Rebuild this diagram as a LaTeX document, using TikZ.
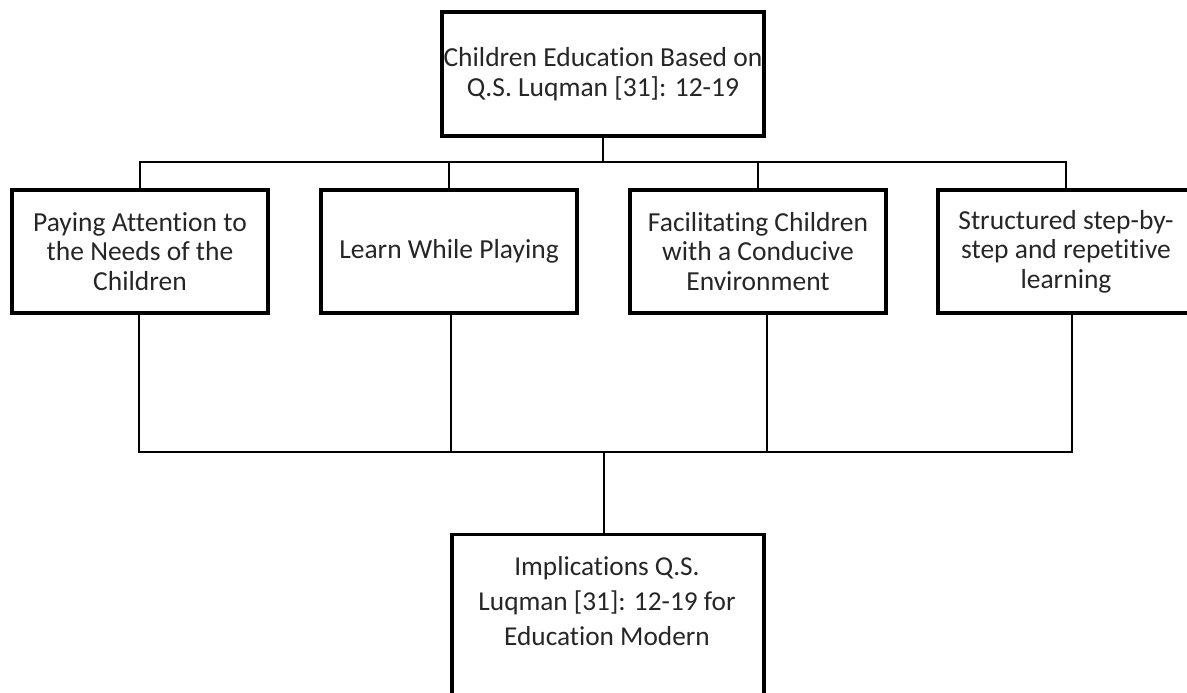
\documentclass[tikz,border=0pt]{standalone}
\usepackage{fontspec}
\setmainfont[Ligatures=NoCommon]{Carlito}
\usepackage{tikz}
\usepackage{xcolor}

\begin{document}
\begin{tikzpicture}[x=1pt,y=-1pt,
        box/.style={draw,line width=3.2pt,minimum width=256pt,minimum height=123pt,
            align=center,inner sep=0pt,text=black!85,font=\fontsize{27.5}{29.5}\selectfont},
        link/.style={line width=2.6pt}]
        \useasboundingbox (0,0) rectangle (1187,693);
        % Top box
        \node[box,minimum width=322pt,minimum height=124pt] (edu) at (603,74) {Children Education Based on\\Q.S. Luqman [31]: 12-19};
        % Four boxes in the middle row
        \node[box] (pay) at (140,251.5) {Paying Attention to\\the Needs of the\\Children};
        \node[box] (learn) at (449,251.5) {Learn While Playing};
        \node[box] (env) at (758,251.5) {Facilitating Children\\with a Conducive\\Environment};
        \node[box] (step) at (1066,251.5) {Structured step-by-\\step and repetitive\\learning};
        % Bottom box, text sits in its upper part
        \node[box,anchor=north,minimum width=312pt,minimum height=200pt] (impl) at (608,533) {};
        \node[anchor=north,align=center,inner sep=0pt,text=black!85,font=\fontsize{27.3}{35}\selectfont]
            (impltext) at ([xshift=-1pt,yshift=-23pt]impl.north)
            {Implications Q.S.\\Luqman [31]: 12-19 for\\Education Modern};
        % Connectors
        \coordinate (topbus) at (603,162);
        \coordinate (lowbus) at (604,452);
        \draw[link] (edu.south) -- (topbus);
        \foreach \n in {pay,learn,env,step}
            \draw[link] (\n.north) |- (topbus);
        \foreach \n/\s in {pay/-1pt,learn/2pt,env/9pt,step/6pt}
            \draw[link] ([xshift=\s]\n.south) |- (lowbus);
        \draw[link] (lowbus) -- (lowbus |- impl.north);
    \end{tikzpicture}
\end{document}
